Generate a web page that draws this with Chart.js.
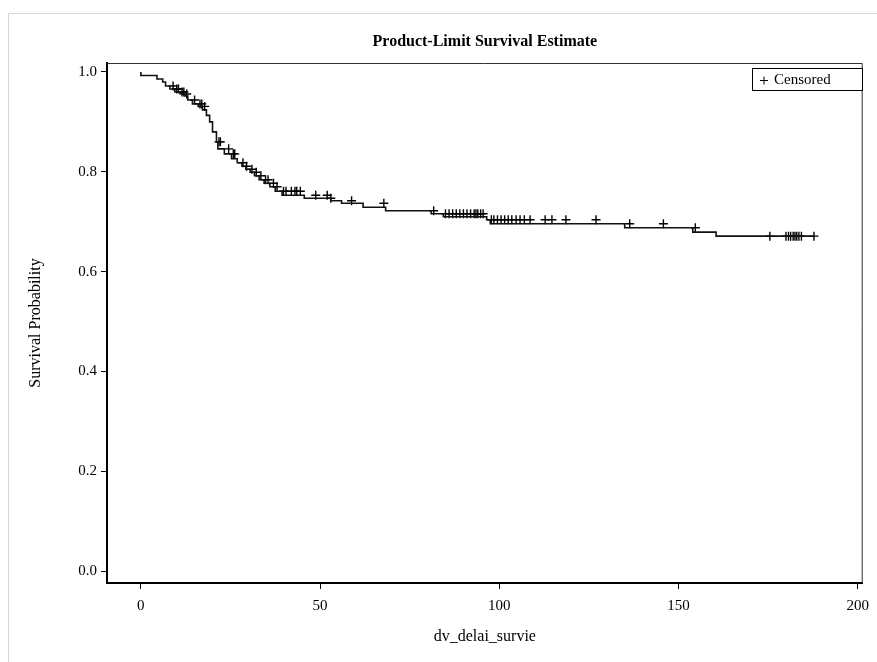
<!DOCTYPE html>
<html>
<head>
<meta charset="utf-8">
<script src="https://cdn.jsdelivr.net/npm/chart.js@4.4.1/dist/chart.umd.min.js"></script>
<style>
html, body { margin: 0; padding: 0; background: #fff; }
canvas { display: block; }
</style>
</head>
<body>
<canvas id="km" width="877" height="662"></canvas>
<script>
// event times and the survival estimate just after each drop
const eventTimes = [4.5, 6.1, 6.9, 8.1, 9.5, 11, 12.3, 13.1, 14.4, 16, 17.2, 18.3, 19.2, 20, 21.1, 21.5,
	23.3, 25.3, 26.9, 28.2, 29.3, 30.5, 31.7, 33, 34.4, 36, 37.5, 39.4, 45.6, 53, 56, 62, 68.3, 81,
	84.4, 96.5, 97.5, 135, 154, 160.5, 169.7];
const survival = [0.993, 0.986, 0.980, 0.972, 0.966, 0.960, 0.956, 0.952, 0.944, 0.936, 0.931, 0.924,
	0.913, 0.900, 0.880, 0.860, 0.846, 0.836, 0.826, 0.818, 0.811, 0.805, 0.799, 0.792, 0.784, 0.777,
	0.770, 0.761, 0.753, 0.747, 0.742, 0.737, 0.729, 0.722, 0.716, 0.710, 0.704, 0.696, 0.688, 0.679, 0.671];
const censorTimes = [9, 10, 10.5, 11.5, 12, 12.8, 15, 16.5, 17, 17.8, 21.8, 22.2, 24.5, 25.8, 26.2, 28.5,
	29.5, 31, 32.2, 33.5, 34.8, 35.5, 37, 38, 39.8, 40.5, 42, 43, 43.5, 44.5, 48.8, 52, 53, 58.8, 67.8,
	81.7, 85, 86, 87, 88, 89, 90, 91, 92, 93, 93.5, 94, 94.8, 95.5, 97.8, 98.5, 99.5, 100.5, 101.5, 102.5,
	103.5, 104.7, 105.8, 107, 108.6, 112.8, 114.7, 118.6, 127, 136.4, 145.8, 154.7, 175.5, 180, 180.7,
	181.3, 182, 182.5, 183, 183.6, 184.3, 187.8];
const lastTime = 188;
const xTicks = [0, 50, 100, 150, 200];
const yTicks = [0, 0.2, 0.4, 0.6, 0.8, 1.0];

const TITLE = "Product-Limit Survival Estimate";
const SERIF = '"Liberation Serif", "Times New Roman", serif';

const survivalAt = (t) => {
	let s = 1;
	eventTimes.forEach((e, i) => {
		if (e <= t) s = survival[i];
	});
	return s;
};

const curve = [{ x: 0, y: 1 }];
eventTimes.forEach((t, i) => curve.push({ x: t, y: survival[i] }));
curve.push({ x: lastTime, y: survival[survival.length - 1] });

const censored = censorTimes.map((t) => ({ x: t, y: survivalAt(t) }));

const framePlugin = {
	id: "frame",
	beforeDraw(chart) {
		const ctx = chart.ctx;
		ctx.save();
		ctx.strokeStyle = "#d6d6d6";
		ctx.lineWidth = 1;
		ctx.beginPath();
		ctx.moveTo(8.5, 662);
		ctx.lineTo(8.5, 13.5);
		ctx.lineTo(877, 13.5);
		ctx.stroke();
		ctx.restore();
	},
	afterDraw(chart) {
		const { ctx, chartArea: a } = chart;
		ctx.save();
		// thin top and right edges of the plot box
		ctx.strokeStyle = "#333";
		ctx.lineWidth = 1;
		ctx.beginPath();
		ctx.moveTo(a.left, a.top + 0.5);
		ctx.lineTo(a.right - 0.5, a.top + 0.5);
		ctx.lineTo(a.right - 0.5, a.bottom);
		ctx.stroke();

		// title
		ctx.fillStyle = "#000";
		ctx.font = "bold 16px " + SERIF;
		ctx.textAlign = "center";
		ctx.textBaseline = "middle";
		ctx.fillText(TITLE, (a.left + a.right) / 2, 42);

		// legend
		ctx.strokeStyle = "#000";
		ctx.fillStyle = "#fff";
		ctx.fillRect(752.5, 68.5, 110, 22);
		ctx.strokeRect(752.5, 68.5, 110, 22);
		ctx.beginPath();
		ctx.moveTo(760, 80.5);
		ctx.lineTo(768, 80.5);
		ctx.moveTo(764, 76.5);
		ctx.lineTo(764, 84.5);
		ctx.stroke();
		ctx.fillStyle = "#000";
		ctx.font = "15px " + SERIF;
		ctx.textAlign = "left";
		ctx.fillText("Censored", 774, 80);
		ctx.restore();
	},
};

new Chart(document.getElementById("km"), {
	type: "line",
	data: {
		datasets: [
			{
				data: curve,
				stepped: "after",
				borderColor: "#111",
				borderWidth: 1.6,
				pointRadius: 0,
				fill: false,
			},
			{
				type: "scatter",
				data: censored,
				pointStyle: "cross",
				pointRadius: 4.5,
				borderColor: "#000",
				borderWidth: 1.4,
				showLine: false,
			},
		],
	},
	options: {
		responsive: false,
		animation: false,
		devicePixelRatio: 1,
		layout: {
			padding: { top: 63, right: 11, left: 0, bottom: 0 },
		},
		plugins: {
			legend: { display: false },
			tooltip: { enabled: false },
			title: { display: false },
		},
		scales: {
			x: {
				type: "linear",
				min: -9.44,
				max: 201.4,
				afterBuildTicks: (scale) => {
					scale.ticks = xTicks.map((v) => ({ value: v }));
				},
				afterFit: (scale) => {
					scale.height = 79;
				},
				grid: {
					drawOnChartArea: false,
					color: "#000",
					tickLength: 6,
				},
				border: {
					color: "#000",
					width: 2,
				},
				ticks: {
					color: "#000",
					padding: 8,
					maxRotation: 0,
					font: { family: SERIF, size: 15 },
				},
				title: {
					display: true,
					text: "dv_delai_survie",
					color: "#000",
					font: { family: SERIF, size: 16 },
					padding: { top: 0, bottom: 16 },
				},
			},
			y: {
				type: "linear",
				min: -0.024,
				max: 1.018,
				afterBuildTicks: (scale) => {
					scale.ticks = yTicks.map((v) => ({ value: v }));
				},
				afterFit: (scale) => {
					scale.width = 107;
				},
				grid: {
					drawOnChartArea: false,
					color: "#000",
					tickLength: 6,
				},
				border: {
					color: "#000",
					width: 2,
				},
				ticks: {
					color: "#000",
					padding: 4,
					font: { family: SERIF, size: 15 },
					callback: (value) => value.toFixed(1),
				},
				title: {
					display: true,
					text: "Survival Probability",
					color: "#000",
					font: { family: SERIF, size: 16 },
					padding: { top: 26, bottom: 0 },
				},
			},
		},
	},
	plugins: [framePlugin],
});
</script>
</body>
</html>
